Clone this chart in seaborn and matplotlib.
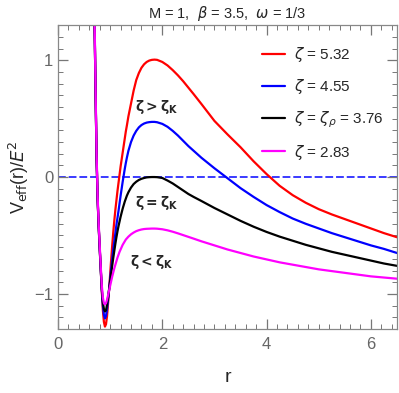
import numpy as np
import pandas as pd
import seaborn as sns
import matplotlib
matplotlib.use("Agg")
import matplotlib.pyplot as plt
from matplotlib.ticker import MultipleLocator

# r grid and V_eff/E^2
r_vals = [0.66, 0.68, 0.70, 0.72, 0.74, 0.76, 0.78, 0.80, 0.82, 0.84, 0.86, 0.88,
          0.90, 0.92, 0.94, 0.96, 0.98, 1.00, 1.02, 1.04, 1.06, 1.08, 1.10,
          1.12, 1.14, 1.16, 1.18, 1.20, 1.22, 1.24, 1.26, 1.28, 1.30, 1.32,
          1.35, 1.40, 1.45, 1.50, 1.55, 1.60, 1.65, 1.70, 1.75, 1.80, 1.85, 1.90,
          2.0, 2.1, 2.2, 2.3, 2.4, 2.5, 2.6,
          2.75,
          3.0, 3.25, 3.5, 3.75, 4.0, 4.25, 4.5, 4.75, 5.0, 5.25, 5.5, 5.75, 6.0, 6.25, 6.5]

v_red = [3.5, 2.2, 1.35, 0.72, 0.15, -0.20, -0.43, -0.62, -0.80, -0.98, -1.14, -1.24,
         -1.28, -1.26, -1.19, -1.08, -0.96, -0.83, -0.70, -0.58, -0.47, -0.37, -0.28,
         -0.20, -0.12, -0.05, 0.02, 0.09, 0.15, 0.21, 0.27, 0.33, 0.39, 0.44,
         0.52, 0.63, 0.74, 0.83, 0.89, 0.935, 0.965, 0.985, 0.997, 1.003, 1.005, 1.003,
         0.985, 0.955, 0.915, 0.87, 0.82, 0.765, 0.71,
         0.625,
         0.48, 0.365, 0.255, 0.135, 0.025, -0.075, -0.155, -0.22, -0.275, -0.32,
         -0.36, -0.40, -0.44, -0.48, -0.515]

v_blue = [3.5, 2.2, 1.35, 0.72, 0.15, -0.20, -0.43, -0.62, -0.80, -0.97, -1.10, -1.18,
          -1.21, -1.19, -1.13, -1.05, -0.96, -0.87, -0.78, -0.70, -0.62, -0.55, -0.48,
          -0.41, -0.35, -0.29, -0.225, -0.16, -0.10, -0.04, 0.015, 0.07, 0.12, 0.165,
          0.225, 0.30, 0.355, 0.395, 0.425, 0.445, 0.458, 0.466, 0.47, 0.472, 0.472, 0.469,
          0.455, 0.43, 0.395, 0.355, 0.31, 0.265, 0.225,
          0.165,
          0.075, -0.01, -0.095, -0.17, -0.24, -0.30, -0.355, -0.40, -0.44, -0.48,
          -0.515, -0.55, -0.585, -0.615, -0.65]

v_black = [3.5, 2.2, 1.36, 0.73, 0.16, -0.19, -0.42, -0.61, -0.79, -0.96, -1.07, -1.13,
           -1.15, -1.14, -1.09, -1.03, -0.96, -0.89, -0.82, -0.755, -0.69, -0.63, -0.57,
           -0.515, -0.465, -0.42, -0.38, -0.34, -0.305, -0.27, -0.24, -0.21, -0.185, -0.16,
           -0.13, -0.09, -0.06, -0.04, -0.025, -0.015, -0.008, -0.003, -0.001, 0.0, 0.0, -0.001,
           -0.008, -0.03, -0.055, -0.085, -0.115, -0.145, -0.17,
           -0.205,
           -0.265, -0.32, -0.375, -0.425, -0.47, -0.51, -0.545, -0.58, -0.61, -0.64,
           -0.665, -0.69, -0.715, -0.74, -0.76]

v_magenta = [3.55, 2.25, 1.40, 0.76, 0.19, -0.17, -0.40, -0.59, -0.77, -0.93, -1.03, -1.08,
             -1.09, -1.08, -1.05, -1.01, -0.97, -0.93, -0.89, -0.85, -0.815, -0.78, -0.75,
             -0.72, -0.69, -0.665, -0.64, -0.62, -0.60, -0.58, -0.565, -0.55, -0.535, -0.525,
             -0.51, -0.49, -0.475, -0.463, -0.455, -0.449, -0.445, -0.443, -0.442, -0.441, -0.441, -0.442,
             -0.447, -0.456, -0.468, -0.482, -0.497, -0.512, -0.527,
             -0.55,
             -0.585, -0.62, -0.65, -0.68, -0.705, -0.73, -0.75, -0.77, -0.79, -0.805,
             -0.82, -0.835, -0.85, -0.86, -0.87]

labels = [r"$\zeta$ = 5.32", r"$\zeta$ = 4.55", r"$\zeta$ = $\zeta_\rho$ = 3.76", r"$\zeta$ = 2.83"]
colors = ["#ff0000", "#0000ff", "#000000", "#ff00ff"]
series = [v_red, v_blue, v_black, v_magenta]

sns.set_style("ticks")
plt.rcParams["font.family"] = ["Liberation Sans", "DejaVu Sans"]
plt.rcParams["mathtext.fontset"] = "dejavusans"

fig = plt.figure(figsize=(3.99, 3.93), dpi=100)
ax = fig.add_axes([0.1454, 0.163, 0.8496, 0.773])

for vals, col, lab in zip(series, colors, labels):
    sns.lineplot(x=r_vals, y=vals, color=col, label=lab, ax=ax, lw=1.6,
                 estimator=None, sort=False)

ax.axhline(0, color="#3a3aff", lw=1.4, ls=(0, (4, 1.5)), zorder=0)

ax.set_xlim(0, 6.5)
ax.set_ylim(-1.3, 1.3)
ax.xaxis.set_major_locator(MultipleLocator(2))
ax.xaxis.set_minor_locator(MultipleLocator(0.2))
ax.yaxis.set_major_locator(MultipleLocator(1))
ax.yaxis.set_minor_locator(MultipleLocator(0.1))
ax.set_yticks([-1, 0, 1])
ax.set_yticklabels(["\u22121", "0", "1"])
ax.tick_params(which="both", direction="in", bottom=True, left=True, top=True, right=True,
               color="#777777", labelcolor="#666666", labelsize=12)
ax.tick_params(which="major", length=7, width=0.9)
ax.tick_params(which="minor", length=3.5, width=0.7)
ax.tick_params(axis="x", which="major", pad=6)
for s in ax.spines.values():
    s.set_visible(True)
    s.set_color("#888888")
    s.set_linewidth(0.9)

ax.set_xlabel("r", fontsize=14, labelpad=12)
ax.set_ylabel(r"V$_{\rm eff}$(r)/$E^2$", fontsize=13, labelpad=2)
ax.set_title(r"M = 1,  $\beta$ = 3.5,  $\omega$ = 1/3", fontsize=10.5, pad=5)

ax.text(1.9, 0.6, r"$\mathbf{\zeta > \zeta_K}$", fontsize=10, ha="center", va="center")
ax.text(1.9, -0.22, r"$\mathbf{\zeta = \zeta_K}$", fontsize=10, ha="center", va="center")
ax.text(1.8, -0.73, r"$\mathbf{\zeta < \zeta_K}$", fontsize=10, ha="center", va="center")

ax.legend(loc="upper right", frameon=False, fontsize=11, handlelength=1.5,
          handletextpad=0.55, labelspacing=0.85, borderaxespad=0.5,
          bbox_to_anchor=(1.0, 0.98))

fig.savefig("out.png", dpi=100)
